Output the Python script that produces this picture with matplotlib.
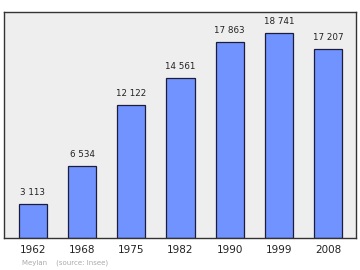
import matplotlib
matplotlib.use('Agg')
import matplotlib.pyplot as plt

# population data
years = ['1962', '1968', '1975', '1982', '1990', '1999', '2008']
population = [3113, 6534, 12122, 14561, 17863, 18741, 17207]
value_labels = ['3 113', '6 534', '12 122', '14 561', '17 863', '18 741', '17 207']

fig = plt.figure(figsize=(3.6, 2.7), dpi=100)
ax = fig.add_axes([0.011, 0.12, 0.978, 0.836])
ax.set_facecolor('#eeeeee')

x = list(range(len(years)))
ax.bar(x, population, width=0.57, color='#7093ff', edgecolor='#1c1c3c', linewidth=0.9)

for xi, v, lab in zip(x, population, value_labels):
    ax.annotate(lab, (xi, v), xytext=(0, 5), textcoords='offset points',
                ha='center', va='bottom', fontsize=6.3, color='#222222')

ax.set_xlim(-0.59, 6.57)
ax.set_ylim(0, 20630)
ax.set_xticks(x)
ax.set_xticklabels(years, fontsize=7.5, color='#222222')
ax.tick_params(axis='x', length=0, pad=5)
ax.set_yticks([])

for s in ax.spines.values():
    s.set_color('#333333')
    s.set_linewidth(1.0)

fig.text(0.061, 0.02, 'Meylan    (source: Insee)', fontsize=5, color='#aaaaaa')

fig.savefig('out.png', dpi=100)
